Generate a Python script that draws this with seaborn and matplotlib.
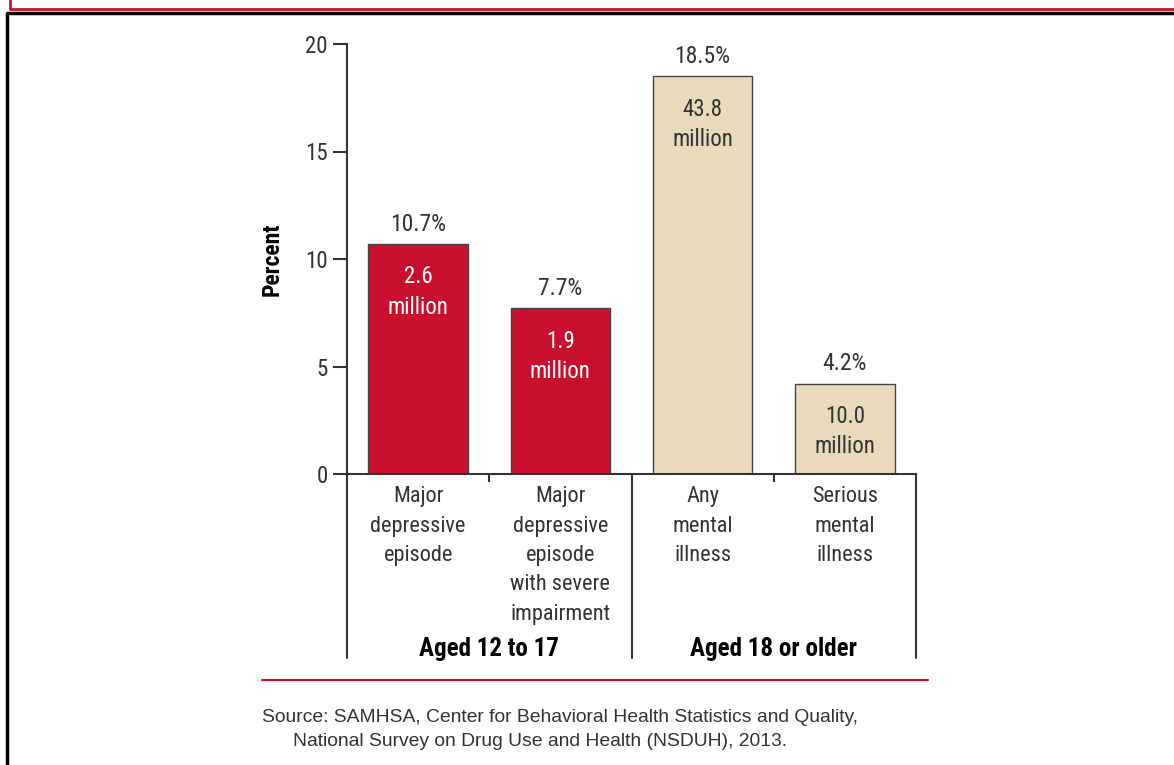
import matplotlib.pyplot as plt
import matplotlib.lines as mlines
import pandas as pd
import seaborn as sns

# Data
categories = ['Major\ndepressive\nepisode',
              'Major\ndepressive\nepisode\nwith severe\nimpairment',
              'Any\nmental\nillness',
              'Serious\nmental\nillness']
groups = ['Aged 12 to 17', 'Aged 12 to 17', 'Aged 18 or older', 'Aged 18 or older']
percent = [10.7, 7.7, 18.5, 4.2]
millions = ['2.6', '1.9', '43.8', '10.0']
y_ticks = [0, 5, 10, 15, 20]

group_colors = {'Aged 12 to 17': '#C8102E', 'Aged 18 or older': '#E9D9BD'}
inner_text_colors = {'Aged 12 to 17': 'white', 'Aged 18 or older': '#333333'}

df = pd.DataFrame({'category': categories, 'group': groups,
                   'percent': percent, 'millions': millions})

sns.set_theme(style='white')
plt.rcParams['font.family'] = ['Roboto Condensed', 'Barlow Semi Condensed', 'DejaVu Sans']
dark = '#333333'

W, H = 1174, 765
fig = plt.figure(figsize=(W / 100, H / 100), dpi=100)
ax = fig.add_axes([347 / W, 1 - 474 / H, (916 - 347) / W, 430 / H])

sns.barplot(data=df, x='category', y='percent', hue='group', palette=group_colors,
            dodge=False, width=0.7, saturation=1, edgecolor='#444444', linewidth=1,
            legend=False, ax=ax)

# value labels
for i, row in df.iterrows():
    ax.annotate(f'{row.percent}%', (i, row.percent), xytext=(0, 6),
                textcoords='offset points', ha='center', va='bottom',
                fontsize=17, color=dark)
    ax.annotate(f'{row.millions}\nmillion', (i, row.percent), xytext=(0, -15.5),
                textcoords='offset points', ha='center', va='top',
                fontsize=16.5, linespacing=1.4, color=inner_text_colors[row.group])

ax.set_xlim(-0.5, 3.5)
ax.set_ylim(0, 20)
ax.set_yticks(y_ticks)
ax.set_xlabel('')
ax.set_ylabel('Percent', fontweight='bold', fontsize=17, color='black')
ax.yaxis.set_label_coords(-0.112, 0.5)

for side in ['top', 'right']:
    ax.spines[side].set_visible(False)
for side in ['left', 'bottom']:
    ax.spines[side].set_color(dark)
    ax.spines[side].set_linewidth(1.5)

ax.tick_params(axis='y', left=True, length=10, width=1.5, color=dark,
               labelsize=16.5, labelcolor=dark, pad=4)
ax.set_xticks([0.5, 2.5], minor=True)
ax.tick_params(axis='x', which='minor', bottom=True, length=6, width=1.5, color=dark)
ax.tick_params(axis='x', which='major', length=0, labelbottom=False)

trans = ax.get_xaxis_transform()

# category labels (drawn as text for wider line spacing)
for i, cat in enumerate(df['category']):
    ax.text(i, -0.028, cat, transform=trans, ha='center', va='top',
            fontsize=16, linespacing=1.53, color=dark)

# group brackets below the axis
for x in [-0.5, 1.5, 3.5]:
    ax.plot([x, x], [0, -0.428], transform=trans, clip_on=False,
            color=dark, lw=1.5)
for g in group_colors:
    center = df.index[df['group'] == g].to_series().mean()
    ax.text(center, -0.408, g, transform=trans, ha='center', va='center',
            fontsize=18, fontweight='bold', color='black')

# red rule and source note
fig.add_artist(mlines.Line2D([262 / W, 928 / W], [1 - 680 / H] * 2,
                             color='#C8102E', lw=1.5))
fig.text(262 / W, 1 - 717 / H,
         'Source: SAMHSA, Center for Behavioral Health Statistics and Quality,',
         family='Liberation Sans', fontsize=13.9, color=dark, va='center')
fig.text(293 / W, 1 - 741 / H,
         'National Survey on Drug Use and Health (NSDUH), 2013.',
         family='Liberation Sans', fontsize=13.9, color=dark, va='center')

# frame edges of the page
fig.add_artist(mlines.Line2D([9.5 / W, 9.5 / W, 1], [1, 1 - 9 / H, 1 - 9 / H],
                             color='#C8102E', lw=2))
fig.add_artist(mlines.Line2D([6.5 / W, 6.5 / W, 1], [0, 1 - 12.5 / H, 1 - 12.5 / H],
                             color='black', lw=2.5))

fig.savefig('out.png', dpi=100)
